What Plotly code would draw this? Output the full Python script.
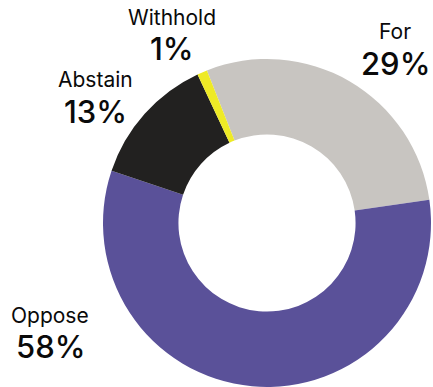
import plotly.graph_objects as go

labels = ["For", "Oppose", "Abstain", "Withhold"]
values = [29, 58, 13, 1]
colors = ["#C8C5C1", "#5A5199", "#222120", "#EEEA26"]

# label anchor positions (pixels) for each category
label_x = [395, 50, 95, 172]
label_y = [48, 331, 96, 34]

W, H = 433, 387
fig = go.Figure(go.Pie(
    labels=labels, values=values, sort=False, direction="clockwise",
    rotation=-21.5, hole=0.54, marker=dict(colors=colors, line=dict(width=0)),
    textinfo="none", hoverinfo="label+value",
    domain=dict(x=[103 / W, 431 / W], y=[0, 328 / H]),
    showlegend=False,
))

font = "Inter, 'Open Sans', sans-serif"
for lab, val, x, y in zip(labels, values, label_x, label_y):
    fig.add_annotation(x=x / W, y=1 - (y - 16) / H, xref="paper", yref="paper",
                       text=lab, showarrow=False, xanchor="center", yanchor="middle",
                       font=dict(family=font, size=21, color="#0a0a0a", weight=400))
    fig.add_annotation(x=x / W, y=1 - (y + 15) / H, xref="paper", yref="paper",
                       text=f"{val}%", showarrow=False, xanchor="center", yanchor="middle",
                       font=dict(family=font, size=31, color="#0a0a0a", weight=500))

fig.update_layout(width=W, height=H, margin=dict(l=0, r=0, t=0, b=0),
                  paper_bgcolor="white", plot_bgcolor="white")
fig.write_html("out.html")
